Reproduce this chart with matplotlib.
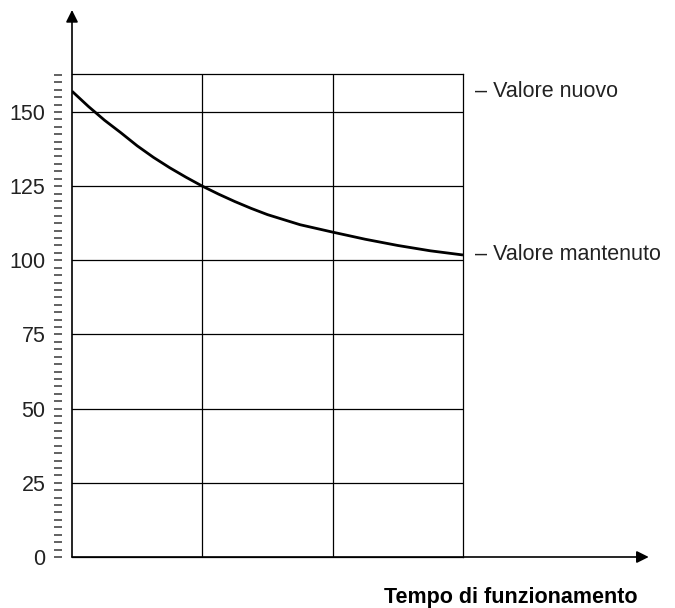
import matplotlib
matplotlib.use('agg')
import numpy as np
import matplotlib.pyplot as plt

plt.rcParams['font.family'] = ['Liberation Sans', 'DejaVu Sans']

# values
tempo = [0, 0.125, 0.25, 0.375, 0.5, 0.625, 0.75, 0.875, 1, 1.125, 1.25, 1.375,
         1.5, 1.75, 2, 2.25, 2.5, 2.75, 3]
valore = [157, 151.9, 147.2, 143.0, 138.6, 134.7, 131.2, 128.0, 125, 122.3, 119.8,
          117.5, 115.4, 112.0, 109.5, 107.1, 105.0, 103.2, 101.8]
y_ticks = [0, 25, 50, 75, 100, 125, 150]
x_grid = [1, 2]
label_nuovo = '– Valore nuovo'
label_mantenuto = '– Valore mantenuto'
x_title = 'Tempo di funzionamento'

fig = plt.figure(figsize=(6.75, 6.08), dpi=100)
ax = fig.add_axes([72/675, 1-557/608, 391/675, 483/608])

ax.set_xlim(0, 3)
ax.set_ylim(0, 162.8)

# grid
for yy in y_ticks[1:]:
    ax.axhline(yy, color='black', lw=0.9, zorder=1)
for xx in x_grid:
    ax.axvline(xx, color='black', lw=0.9, zorder=1)

ax.plot(tempo, valore, color='black', lw=2.0, zorder=3, solid_capstyle='butt')

# spines: left one is drawn by the arrow, ticks sit a bit outside
ax.spines['left'].set_position(('outward', 7.2))
ax.spines['left'].set_visible(False)
for s in ['top', 'right', 'bottom']:
    ax.spines[s].set_linewidth(0.9)

ax.set_yticks(y_ticks)
ax.set_yticks(np.arange(0, 162.6, 2.5), minor=True)
ax.tick_params(axis='y', which='both', direction='out', length=5.8, width=1.3,
               color='#555555', labelsize=15.5, labelcolor='#222222', pad=6)
ax.set_xticks([])

# arrows
ax.annotate('', xy=(0, 1.1325), xytext=(0, 0), xycoords='axes fraction',
            arrowprops=dict(arrowstyle='-|>', color='black', lw=1.2,
                            mutation_scale=18, shrinkA=0, shrinkB=0))
ax.annotate('', xy=(1.475, 0), xytext=(0, 0), xycoords='axes fraction',
            arrowprops=dict(arrowstyle='-|>', color='black', lw=1.2,
                            mutation_scale=18, shrinkA=0, shrinkB=0))

ax.text(1.03, valore[0], label_nuovo, fontsize=15.5, color='#222222',
        va='center', ha='left', transform=ax.get_yaxis_transform())
ax.text(1.03, valore[-1], label_mantenuto, fontsize=15.5, color='#222222',
        va='center', ha='left', transform=ax.get_yaxis_transform())

fig.text(637/675, 1-597/608, x_title, fontsize=15.5, fontweight='bold',
         ha='right', va='center')

fig.savefig('out.png', dpi=100)
